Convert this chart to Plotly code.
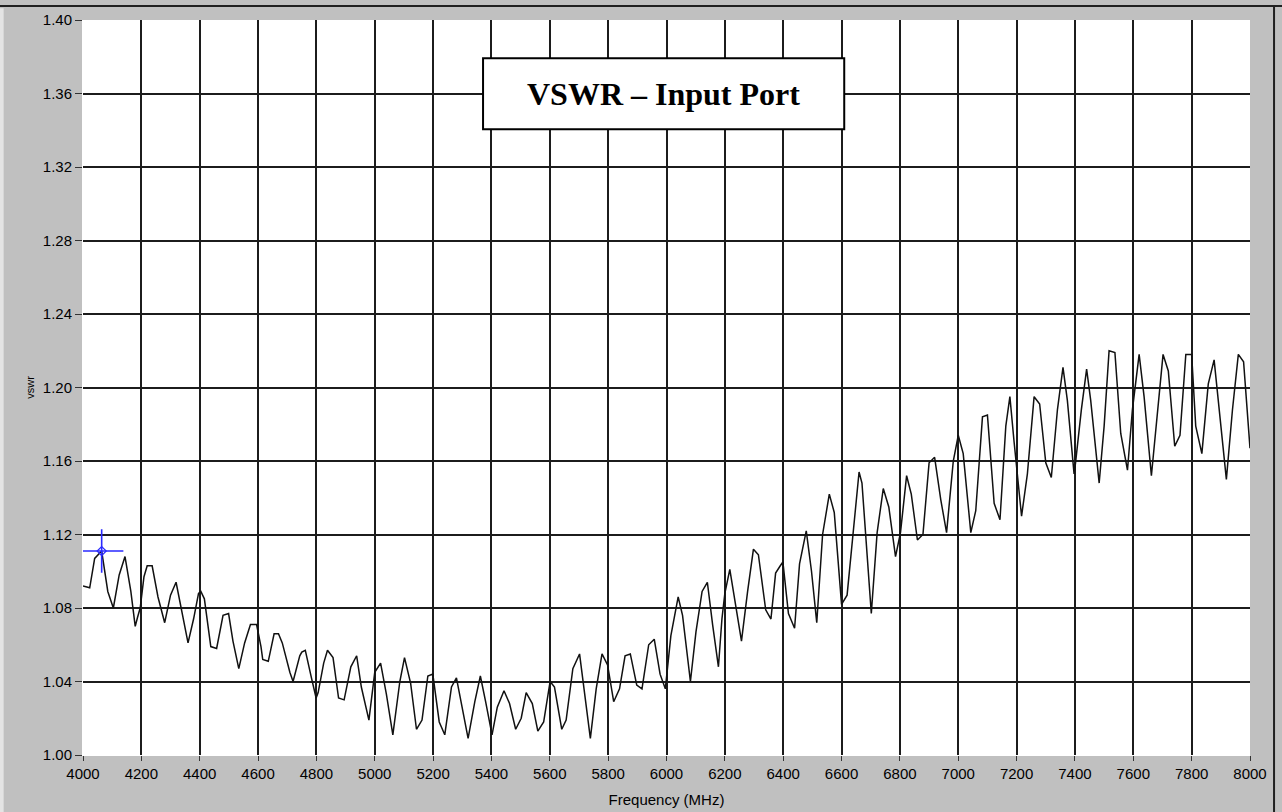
import plotly.graph_objects as go

# Frequency (MHz) of the measured trace vertices
freq_mhz = [
    4000, 4023, 4040, 4051, 4064, 4085, 4104, 4124, 4144, 4164, 4179, 4187, 4196,
    4209, 4220, 4237, 4257, 4280, 4300, 4319, 4336, 4360, 4379, 4396, 4404, 4416,
    4438, 4458, 4480, 4499, 4514, 4534, 4554, 4574, 4595, 4610, 4616, 4635, 4655,
    4670, 4683, 4709, 4720, 4743, 4750, 4762, 4783, 4799, 4806, 4825, 4838, 4857,
    4876, 4895, 4918, 4938, 4954, 4980, 5000, 5020, 5040, 5062, 5086, 5102, 5123,
    5143, 5162, 5182, 5199, 5221, 5240, 5263, 5280, 5300, 5320, 5343, 5362, 5380,
    5402, 5420, 5443, 5462, 5483, 5502, 5519, 5540, 5559, 5579, 5601, 5616, 5641,
    5656, 5679, 5702, 5719, 5739, 5759, 5779, 5798, 5819, 5839, 5858, 5876, 5898,
    5916, 5939, 5958, 5978, 5996, 6015, 6040, 6055, 6082, 6101, 6122, 6140, 6158,
    6178, 6190, 6200, 6217, 6238, 6257, 6278, 6298, 6315, 6340, 6358, 6374, 6390,
    6399, 6418, 6439, 6456, 6479, 6497, 6515, 6535, 6558, 6575, 6600, 6619, 6639,
    6660, 6670, 6682, 6702, 6722, 6743, 6762, 6785, 6802, 6823, 6839, 6860, 6879,
    6900, 6919, 6940, 6960, 6983, 7000, 7017, 7043, 7060, 7083, 7100, 7123, 7143,
    7163, 7177, 7191, 7217, 7237, 7260, 7279, 7300, 7319, 7340, 7359, 7374, 7397,
    7402, 7422, 7440, 7454, 7483, 7500, 7517, 7537, 7557, 7580, 7597, 7620, 7637,
    7662, 7681, 7702, 7720, 7742, 7760, 7780, 7800, 7814, 7835, 7857, 7877, 7896,
    7919, 7940, 7960, 7978, 8000,
]

# VSWR values at those frequencies
vswr = [
    1.092, 1.091, 1.107, 1.109, 1.111, 1.089, 1.080, 1.098, 1.108, 1.089, 1.070, 1.075, 1.080,
    1.097, 1.103, 1.103, 1.086, 1.072, 1.087, 1.094, 1.080, 1.061, 1.074, 1.088, 1.089, 1.085,
    1.059, 1.058, 1.076, 1.077, 1.062, 1.047, 1.061, 1.071, 1.071, 1.059, 1.052, 1.051, 1.066,
    1.066, 1.061, 1.045, 1.040, 1.054, 1.056, 1.057, 1.042, 1.031, 1.034, 1.050, 1.057, 1.053,
    1.031, 1.030, 1.048, 1.054, 1.037, 1.019, 1.045, 1.050, 1.033, 1.011, 1.040, 1.053, 1.039,
    1.014, 1.019, 1.043, 1.044, 1.018, 1.011, 1.037, 1.042, 1.026, 1.009, 1.029, 1.043, 1.029,
    1.011, 1.026, 1.035, 1.028, 1.014, 1.020, 1.034, 1.028, 1.013, 1.018, 1.040, 1.037, 1.014,
    1.019, 1.047, 1.055, 1.033, 1.009, 1.036, 1.055, 1.049, 1.029, 1.036, 1.054, 1.055, 1.038,
    1.036, 1.060, 1.063, 1.044, 1.036, 1.065, 1.086, 1.076, 1.040, 1.067, 1.089, 1.094, 1.071,
    1.048, 1.074, 1.088, 1.101, 1.081, 1.062, 1.089, 1.112, 1.109, 1.079, 1.074, 1.099, 1.103,
    1.105, 1.077, 1.069, 1.104, 1.122, 1.100, 1.072, 1.120, 1.142, 1.132, 1.082, 1.087, 1.121,
    1.154, 1.148, 1.121, 1.077, 1.121, 1.145, 1.135, 1.108, 1.121, 1.152, 1.142, 1.117, 1.120,
    1.159, 1.162, 1.139, 1.121, 1.160, 1.174, 1.164, 1.121, 1.133, 1.184, 1.185, 1.137, 1.128,
    1.179, 1.195, 1.171, 1.130, 1.153, 1.195, 1.191, 1.159, 1.151, 1.188, 1.211, 1.193, 1.153,
    1.159, 1.188, 1.210, 1.193, 1.148, 1.179, 1.220, 1.219, 1.175, 1.155, 1.188, 1.218, 1.195,
    1.152, 1.184, 1.218, 1.209, 1.168, 1.174, 1.218, 1.218, 1.179, 1.164, 1.202, 1.215, 1.186,
    1.150, 1.188, 1.218, 1.214, 1.167,
]

# Cursor position
cursor_freq = [4064]
cursor_vswr = [1.111]

# Axis ticks
x_ticks = list(range(4000, 8001, 200))
y_ticks = [1.00, 1.04, 1.08, 1.12, 1.16, 1.20, 1.24, 1.28, 1.32, 1.36, 1.40]
y_tick_text = ["1.00", "1.04", "1.08", "1.12", "1.16", "1.20", "1.24", "1.28", "1.32", "1.36", "1.40"]

title_text = "<b>VSWR – Input Port</b>"

fig = go.Figure()
fig.add_trace(go.Scatter(
    x=freq_mhz, y=vswr, mode="lines",
    line=dict(color="#111111", width=1.5),
    showlegend=False, hoverinfo="x+y",
))
fig.add_trace(go.Scatter(
    x=cursor_freq, y=cursor_vswr, mode="markers",
    marker=dict(symbol="cross-thin", size=31, color="#2a2aff",
                line=dict(color="#2a2aff", width=1.6)),
    showlegend=False, hoverinfo="skip",
))
fig.add_trace(go.Scatter(
    x=cursor_freq, y=cursor_vswr, mode="markers",
    marker=dict(symbol="diamond-open", size=7, color="#2a2aff",
                line=dict(color="#2a2aff", width=1.2)),
    showlegend=False, hoverinfo="skip",
))

axis_font = dict(family="Liberation Sans, Arial, sans-serif", size=15, color="#000000")

fig.update_layout(
    width=1282, height=812,
    paper_bgcolor="#c0c0c0", plot_bgcolor="#ffffff",
    margin=dict(l=83, r=32, t=20, b=57, autoexpand=False),
    xaxis=dict(
        range=[4000, 8000], tickvals=x_ticks, ticktext=[str(v) for v in x_ticks],
        showgrid=True, gridcolor="#1c1c1c", gridwidth=1.7,
        zeroline=False, showline=True, linecolor="#ffffff", linewidth=1,
        ticks="outside", ticklen=5, tickwidth=1.2, tickcolor="#333333",
        tickfont=axis_font,
        title=dict(text="Frequency (MHz)", font=axis_font, standoff=13),
        fixedrange=True,
    ),
    yaxis=dict(
        range=[1.0, 1.4], tickvals=y_ticks, ticktext=y_tick_text,
        showgrid=True, gridcolor="#1c1c1c", gridwidth=1.7,
        zeroline=False, showline=True, linecolor="#ffffff", linewidth=1,
        ticks="outside", ticklen=7, tickwidth=1.2, tickcolor="#333333",
        tickfont=axis_font,
        title=dict(text="vswr", font=dict(family="Liberation Sans, Arial, sans-serif", size=11, color="#000000"), standoff=5),
        fixedrange=True,
    ),
    shapes=[
        dict(type="rect", xref="paper", yref="paper", x0=0.3428, x1=0.6523, y0=0.8513, y1=0.9479,
             line=dict(color="#000000", width=2), fillcolor="#ffffff", layer="above"),
        dict(type="line", xref="paper", yref="paper", x0=-0.08, x1=1.03, y0=1.019, y1=1.019,
             line=dict(color="#202020", width=2)),
        dict(type="line", xref="paper", yref="paper", x0=1.0206, x1=1.0206, y0=-0.08, y1=1.019,
             line=dict(color="#202020", width=2)),
        dict(type="rect", xref="paper", yref="paper", x0=-0.0714, x1=-0.0680, y0=-0.08, y1=1.016,
             line=dict(width=0), fillcolor="#e4e4e4", layer="below"),
    ],
    annotations=[
        dict(text=title_text, xref="paper", yref="paper", x=0.4976, y=0.8996,
             xanchor="center", yanchor="middle", showarrow=False,
             font=dict(family="Liberation Serif, Times New Roman, serif", size=32, color="#000000")),
    ],
)

fig.write_html(
    "out.html",
    config={"displayModeBar": False},
    post_script="document.body.style.margin='0px';document.body.style.background='#c0c0c0';",
)
